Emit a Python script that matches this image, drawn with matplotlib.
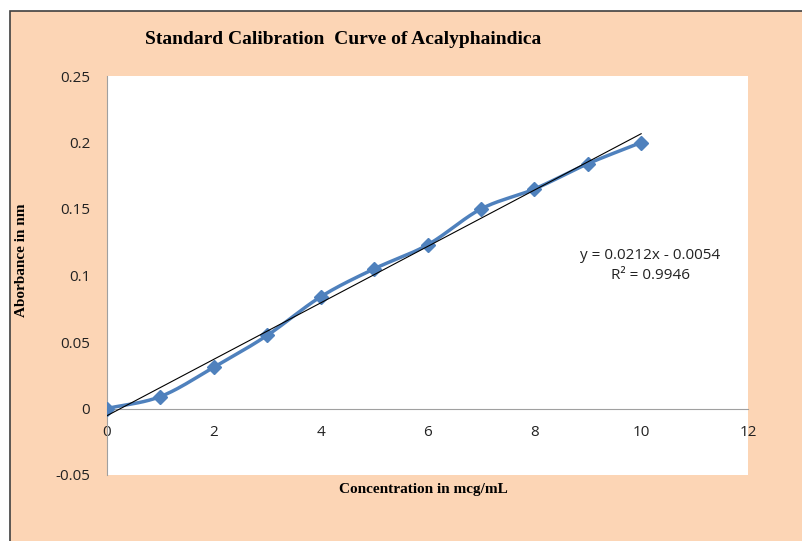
import numpy as np
import matplotlib.pyplot as plt
from matplotlib.patches import Rectangle

# calibration data
conc = [0, 1, 2, 3, 4, 5, 6, 7, 8, 9, 10]
absorb = [0.0, 0.009, 0.031, 0.055, 0.084, 0.105, 0.123, 0.150, 0.165, 0.184, 0.200]
slope, intercept = 0.0212, -0.0054
x_ticks = [0, 2, 4, 6, 8, 10, 12]
y_ticks = [-0.05, 0, 0.05, 0.1, 0.15, 0.2, 0.25]
y_labels = ['-0.05', '0', '0.05', '0.1', '0.15', '0.2', '0.25']

peach = '#FCD5B5'
blue = '#4F81BD'


def catmull_rom(x, y, n=20):
    # smooth curve through points like Excel's smoothed line
    x = np.asarray(x, float)
    y = np.asarray(y, float)
    px = np.concatenate([[2 * x[0] - x[1]], x, [2 * x[-1] - x[-2]]])
    py = np.concatenate([[2 * y[0] - y[1]], y, [2 * y[-1] - y[-2]]])
    xs, ys = [], []
    t = np.linspace(0, 1, n)
    for i in range(1, len(px) - 2):
        for p, out in ((px, xs), (py, ys)):
            p0, p1, p2, p3 = p[i - 1], p[i], p[i + 1], p[i + 2]
            out.extend(0.5 * (2 * p1 + (-p0 + p2) * t
                              + (2 * p0 - 5 * p1 + 4 * p2 - p3) * t ** 2
                              + (-p0 + 3 * p1 - 3 * p2 + p3) * t ** 3))
    return np.array(xs), np.array(ys)


fig = plt.figure(figsize=(8.02, 5.41), dpi=100, facecolor='white')
bg = Rectangle((10 / 802, -0.01), 1.0, (541 - 11) / 541 + 0.01,
               transform=fig.transFigure, facecolor=peach,
               edgecolor='#404040', linewidth=1.2, zorder=-10)
fig.patches.append(bg)

ax = fig.add_axes([107 / 802, 66 / 541, 641 / 802, 399 / 541])
ax.set_zorder(5)
ax.set_facecolor('white')

sx, sy = catmull_rom(conc, absorb)
ax.plot(sx, sy, color=blue, linewidth=2.5, zorder=3)
ax.plot(conc, absorb, linestyle='none', marker='D', markersize=7,
        color=blue, zorder=4)

tx = np.array([conc[0], conc[-1]])
ax.plot(tx, slope * tx + intercept, color='black', linewidth=0.8, zorder=5)

ax.set_xlim(0, 12)
ax.set_ylim(-0.05, 0.25)
ax.set_xticks(x_ticks)
ax.set_yticks(y_ticks)
ax.set_yticklabels(y_labels)

for s in ['top', 'right']:
    ax.spines[s].set_visible(False)
ax.spines['left'].set_color('#A0A0A0')
ax.spines['bottom'].set_color('#A0A0A0')
ax.spines['bottom'].set_position(('data', 0))
ax.tick_params(axis='both', length=0, labelsize=11, colors='#222222')
ax.tick_params(axis='x', pad=12)
ax.tick_params(axis='y', pad=12)
for lbl in ax.get_xticklabels() + ax.get_yticklabels():
    lbl.set_fontfamily('Open Sans')

ax.text(10.17, 0.115, 'y = 0.0212x - 0.0054', fontsize=11, ha='center',
        va='center', family='Open Sans', color='#222222')
ax.text(10.17, 0.1, 'R² = 0.9946', fontsize=11, ha='center',
        va='center', family='Open Sans', color='#222222')

fig.text(343 / 802, 1 - 40 / 541, 'Standard Calibration  Curve of Acalyphaindica',
         ha='center', va='center', fontsize=14, fontweight='bold',
         family='Liberation Serif')
fig.text(423 / 802, 1 - 489 / 541, 'Concentration in mcg/mL',
         ha='center', va='center', fontsize=11, fontweight='bold',
         family='Liberation Serif')
fig.text(22 / 802, 1 - 260 / 541, 'Aborbance in nm', rotation=90,
         ha='center', va='center', fontsize=11, fontweight='bold',
         family='Liberation Serif')

fig.savefig('out.png', dpi=100, facecolor=fig.get_facecolor())
